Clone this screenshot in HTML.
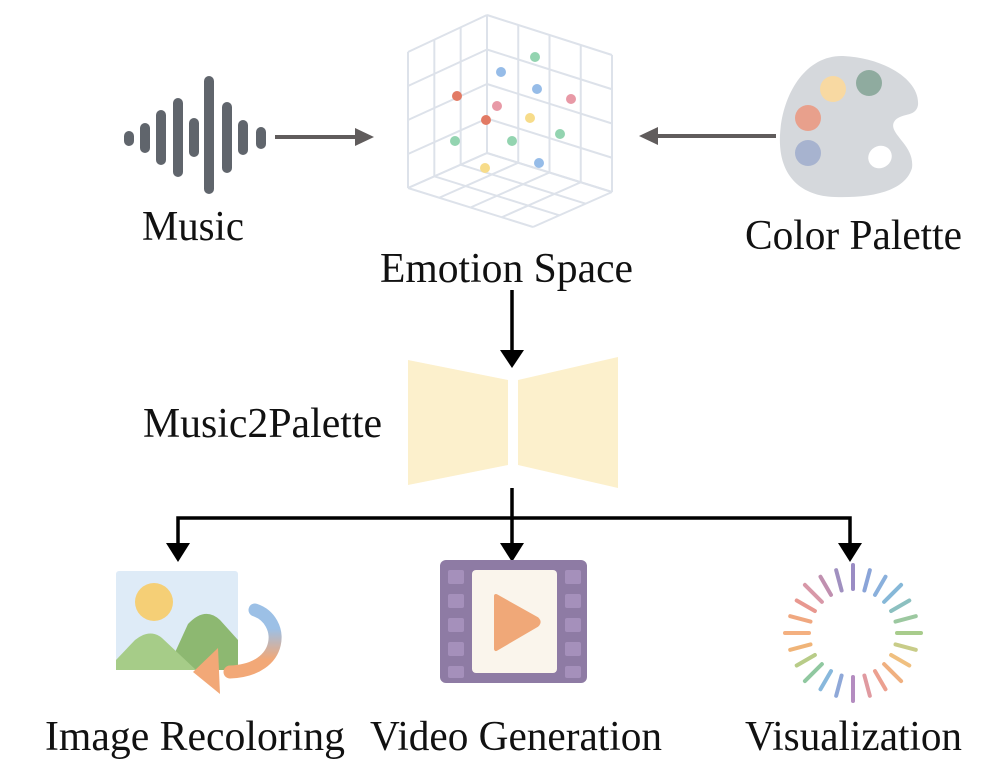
<!DOCTYPE html>
<html><head><meta charset="utf-8"><style>
html,body{margin:0;padding:0;background:#fff;}
svg{display:block}
text{font-family:"Liberation Serif",serif;font-size:42px;fill:#111;}
</style></head><body>
<svg id="s" width="996" height="784" viewBox="0 0 996 784" xmlns="http://www.w3.org/2000/svg">
<g fill="#60656c">
<rect x="124" y="131" width="10" height="15" rx="5"/>
<rect x="140" y="123" width="10" height="30" rx="5"/>
<rect x="156" y="110" width="10" height="55" rx="5"/>
<rect x="173" y="98" width="10" height="79" rx="5"/>
<rect x="189" y="118" width="10" height="39" rx="5"/>
<rect x="204" y="76" width="10" height="118" rx="5"/>
<rect x="222" y="102" width="10" height="71" rx="5"/>
<rect x="238" y="120" width="10" height="35" rx="5"/>
<rect x="256" y="127" width="10" height="22" rx="5"/>
</g>
<line x1="275" y1="137" x2="358" y2="137" stroke="#605c5c" stroke-width="4"/>
<polygon points="355,128 374,137 355,146" fill="#605c5c"/>
<line x1="655" y1="136" x2="776" y2="136" stroke="#605c5c" stroke-width="4"/>
<polygon points="658,127 639,136 658,145" fill="#605c5c"/>
<g id="cube" stroke="#dde2ea" stroke-width="2" fill="none"></g>
<g>
<circle cx="535" cy="57" r="5" fill="#93d4b0"/>
<circle cx="501" cy="72" r="5" fill="#96bce8"/>
<circle cx="537" cy="89" r="5" fill="#96bce8"/>
<circle cx="571" cy="99" r="5" fill="#e899a6"/>
<circle cx="457" cy="96" r="5" fill="#e27a64"/>
<circle cx="497" cy="106" r="5" fill="#e899a6"/>
<circle cx="486" cy="120" r="5" fill="#e27a64"/>
<circle cx="530" cy="118" r="5" fill="#f7dc8a"/>
<circle cx="560" cy="134" r="5" fill="#93d4b0"/>
<circle cx="455" cy="141" r="5" fill="#93d4b0"/>
<circle cx="512" cy="141" r="5" fill="#93d4b0"/>
<circle cx="539" cy="163" r="5" fill="#96bce8"/>
<circle cx="485" cy="168" r="5" fill="#f7dc8a"/>
</g>
<path d="M843,56 C885,58 920,80 918,105 C916,118 900,112 894,122 C888,134 915,145 912,168 C905,192 870,198 835,197 C800,196 778,175 780,135 C782,95 805,55 843,56 Z" fill="#d5d8dc"/>
<circle cx="833" cy="89" r="13" fill="#f8d9a2"/>
<circle cx="869" cy="83" r="13" fill="#8fab9f"/>
<circle cx="808" cy="118" r="13" fill="#e8a08c"/>
<circle cx="808" cy="153" r="13" fill="#a7b3cf"/>
<ellipse cx="880" cy="157" rx="12" ry="11" fill="#fff" transform="rotate(-30 880 157)"/>
<text x="142" y="240" textLength="102" lengthAdjust="spacingAndGlyphs">Music</text>
<text x="380" y="282" textLength="253" lengthAdjust="spacingAndGlyphs">Emotion Space</text>
<text x="745" y="249" textLength="217" lengthAdjust="spacingAndGlyphs">Color Palette</text>
<text x="143" y="437" textLength="239" lengthAdjust="spacingAndGlyphs">Music2Palette</text>
<line x1="512" y1="290" x2="512" y2="352" stroke="#000" stroke-width="3.5"/>
<polygon points="500,350 524,350 512,368" fill="#000"/>
<polygon points="408,360 508,380 508,465 408,485" fill="#fcf0cc"/>
<polygon points="518,380 618,357 618,488 518,465" fill="#fcf0cc"/>
<g stroke="#000" stroke-width="3.5" fill="none">
<line x1="512" y1="488" x2="512" y2="545"/>
<polyline points="178,545 178,518 850,518 850,545"/>
</g>
<g fill="#000">
<polygon points="166,543 190,543 178,562"/>
<polygon points="500,543 524,543 512,562"/>
<polygon points="838,543 862,543 850,562"/>
</g>
<rect x="116" y="571" width="122" height="99" rx="3" fill="#deebf7"/>
<circle cx="154" cy="602" r="19" fill="#f5cf76"/>
<path d="M167,670 L188,624 Q205,606 220,620 L238,640 L238,670 Z" fill="#8db871"/>
<path d="M116,660 L135,640 Q150,628 162,638 L196,670 L116,670 Z" fill="#a6cc88"/>
<defs><linearGradient id="g1" x1="0" y1="0" x2="0" y2="1"><stop offset="0.3" stop-color="#9cc0e6"/><stop offset="0.8" stop-color="#f2a877"/></linearGradient></defs>
<path d="M255,610 C285,620 285,670 230,672" stroke="url(#g1)" stroke-width="13" fill="none" stroke-linecap="round"/>
<polygon points="218,648 193,672 220,694" fill="#f2a877"/>
<rect x="440" y="560" width="147" height="123" rx="6" fill="#8e7ba4"/>
<rect x="472" y="570" width="85" height="103" rx="4" fill="#faf5ec"/>
<g fill="#a590bb"><rect x="448" y="570" width="16" height="14" rx="2"/><rect x="448" y="594" width="16" height="14" rx="2"/><rect x="448" y="618" width="16" height="14" rx="2"/><rect x="448" y="642" width="16" height="14" rx="2"/><rect x="448" y="666" width="16" height="12" rx="2"/><rect x="565" y="570" width="16" height="14" rx="2"/><rect x="565" y="594" width="16" height="14" rx="2"/><rect x="565" y="618" width="16" height="14" rx="2"/><rect x="565" y="642" width="16" height="14" rx="2"/><rect x="565" y="666" width="16" height="12" rx="2"/></g>
<path d="M496,596 L537,619 Q540,622 537,625 L496,649 Z" fill="#f0a878" stroke="#f0a878" stroke-width="4" stroke-linejoin="round"/>
<g id="viz" stroke-width="4" stroke-linecap="round"></g>
<text x="45" y="750" textLength="300" lengthAdjust="spacingAndGlyphs">Image Recoloring</text>
<text x="370" y="750" textLength="292" lengthAdjust="spacingAndGlyphs">Video Generation</text>
<text x="745" y="750" textLength="217" lengthAdjust="spacingAndGlyphs">Visualization</text>
</svg>
<script>
var ns="http://www.w3.org/2000/svg";
function L(g,a,b){var l=document.createElementNS(ns,"line");l.setAttribute("x1",a[0]);l.setAttribute("y1",a[1]);l.setAttribute("x2",b[0]);l.setAttribute("y2",b[1]);g.appendChild(l);}
function lerp(p,q,t){return [p[0]+(q[0]-p[0])*t,p[1]+(q[1]-p[1])*t];}
function grid(g,A,B,C,D,nu,nv){
for(var i=0;i<=nu;i++){var t=i/nu;L(g,lerp(A,B,t),lerp(D,C,t));}
for(var j=0;j<=nv;j++){var t=j/nv;L(g,lerp(A,D,t),lerp(B,C,t));}}
var c=document.getElementById("cube");
grid(c,[408,52],[487,15],[487,153],[408,188],3,4);
grid(c,[487,15],[612,55],[612,192],[487,153],4,4);
grid(c,[408,188],[487,153],[612,192],[533,227],3,4);
var v=document.getElementById("viz");
var cols=["#9a8cc4","#8aa4d8","#8ab0dc","#86b8d8","#8cc0c0","#9cc8a0","#a8cc8c","#c8cc88","#f0c080","#f0b080","#eca090","#e09aa0","#b48cc0","#8fa8d8","#88b8dc","#90c8a0","#b8cc88","#f0b478","#f4b080","#f0a880","#e89890","#d898a8","#c090b0","#a090c0"];
for(var k=0;k<24;k++){var a=-Math.PI/2+k*2*Math.PI/24;var r1=44,r2=65+(k%3==0?3:0);
var l=document.createElementNS(ns,"line");l.setAttribute("x1",853+r1*Math.cos(a));l.setAttribute("y1",633+r1*Math.sin(a));l.setAttribute("x2",853+r2*Math.cos(a));l.setAttribute("y2",633+r2*Math.sin(a));l.setAttribute("stroke",cols[k]);v.appendChild(l);}
</script>
</body></html>
